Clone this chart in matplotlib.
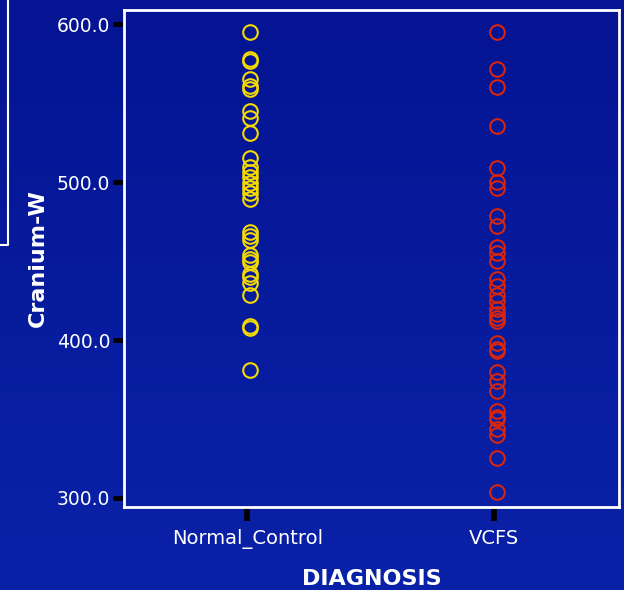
import numpy as np
import matplotlib
matplotlib.use("Agg")
import matplotlib.pyplot as plt
from matplotlib.lines import Line2D

categories = ["Normal_Control", "VCFS"]
normal_values = [594.9, 577.8, 576.5, 565.1, 560.7, 558.8, 544.8, 540.4, 530.9,
                 515.0, 509.3, 506.2, 503.0, 499.2, 496.0, 492.8, 489.5,
                 468.1, 465.6, 463.0, 453.5, 451.6, 449.1, 442.1, 439.6, 435.8,
                 428.2, 409.0, 407.8, 381.2]
vcfs_values = [594.9, 571.5, 560.1, 535.3, 508.7, 499.8, 496.0, 478.2, 471.9,
               458.6, 454.8, 450.3, 438.9, 434.5, 428.2, 424.4, 419.9, 416.7,
               414.2, 412.3, 398.4, 394.6, 393.3, 380.0, 374.3, 367.9, 355.2,
               351.4, 350.2, 343.8, 340.0, 325.4, 303.8]
y_ticks = [300.0, 400.0, 500.0, 600.0]
colors = ["#f5da00", "#d8260e"]

fig = plt.figure(figsize=(6.24, 5.90), dpi=100)

# gradient background
bg = fig.add_axes([0, 0, 1, 1], zorder=-10)
grad = np.linspace(0, 1, 256).reshape(-1, 1)
top = np.array([4, 20, 146]) / 255
bot = np.array([10, 34, 168]) / 255
img = top[None, None, :] * (1 - grad[:, :, None]) + bot[None, None, :] * grad[:, :, None]
bg.imshow(img, aspect="auto", extent=[0, 1, 0, 1])
bg.set_axis_off()

ax = fig.add_axes([124 / 624, 1 - 507 / 590, (619 - 124) / 624, (507 - 10) / 590])
ax.patch.set_alpha(0)

for i, (vals, c) in enumerate(zip([normal_values, vcfs_values], colors)):
    ax.plot([i + 0.01] * len(vals), vals, linestyle="none", marker="o",
            markersize=10.5, markerfacecolor="none", markeredgecolor=c,
            markeredgewidth=1.5)

ax.set_xlim(-0.5, 1.505)
ax.set_ylim(294.3, 608.9)
ax.set_xticks([0, 1])
ax.set_xticklabels(categories)
ax.set_yticks(y_ticks)
ax.set_yticklabels([f"{v:.1f}" for v in y_ticks])

for s in ax.spines.values():
    s.set_color("white")
    s.set_linewidth(2)

ax.tick_params(axis="y", colors="black", width=3.5, length=8, labelcolor="white",
               labelsize=13.5, pad=2)
ax.tick_params(axis="x", colors="black", width=4, length=10, labelcolor="white",
               labelsize=14, pad=6)

ax.set_ylabel("Cranium-W", color="white", fontsize=16, fontweight="bold", labelpad=6)
ax.set_xlabel("DIAGNOSIS", color="white", fontsize=16, fontweight="bold", labelpad=14)

# decorative slide frame line at the left
fig.add_artist(Line2D([8 / 624, 8 / 624, 0], [1, 1 - 245 / 590, 1 - 245 / 590],
                      color="white", linewidth=1.5, transform=fig.transFigure))

fig.savefig("out.png", dpi=100)
